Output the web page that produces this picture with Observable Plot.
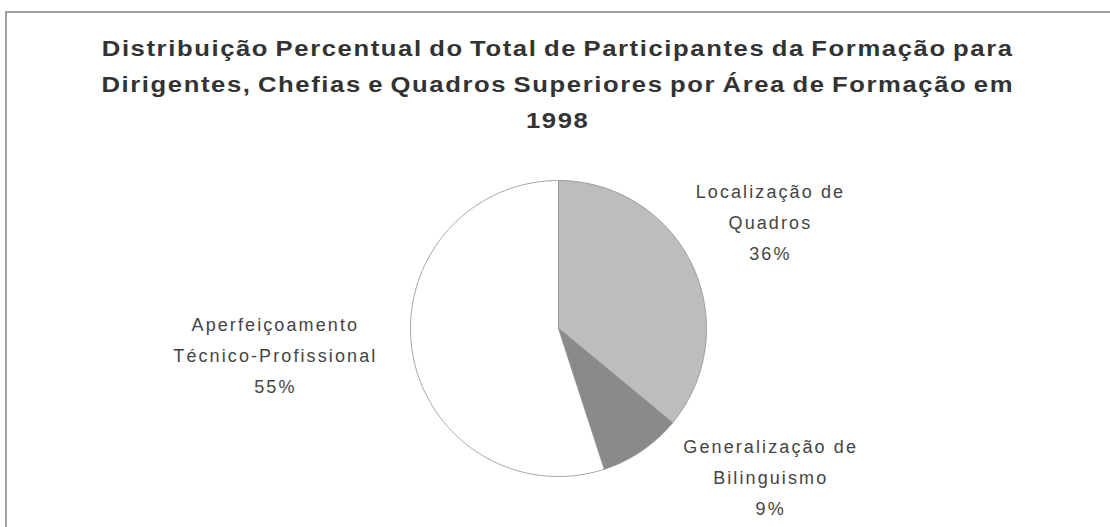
<!DOCTYPE html>
<html><head><meta charset="utf-8">
<script src="https://cdn.jsdelivr.net/npm/d3@7"></script>
<script src="https://cdn.jsdelivr.net/npm/@observablehq/plot@0.6"></script>
<style>
html,body{margin:0;padding:0;background:#fff;}
body{width:1110px;height:527px;overflow:hidden;position:relative;font-family:"Liberation Sans",Arial,sans-serif;}
#frame{position:absolute;left:5px;top:11px;width:1110px;height:530px;border-left:2px solid #a0a0a0;border-top:2px solid #a0a0a0;box-sizing:border-box;}
#title{position:absolute;left:0;top:31px;width:1116px;text-align:center;font-weight:bold;font-size:22.5px;line-height:36px;color:#333;letter-spacing:1.4px;word-spacing:-2px;transform:scaleX(1.14);transform-origin:560px 0;}
#chart{position:absolute;left:0;top:140px;}
</style>
</head><body>
<div id="frame"></div>
<div id="title">Distribuição Percentual do Total de Participantes da Formação para<br>Dirigentes, Chefias e Quadros Superiores por Área de Formação em<br>1998</div>
<div id="chart"></div>
<script>
// ---- data ----
const categories = ["Localização de Quadros", "Generalização de Bilinguismo", "Aperfeiçoamento Técnico-Profissional"];
const labelLines = [["Localização de", "Quadros"], ["Generalização de", "Bilinguismo"], ["Aperfeiçoamento", "Técnico-Profissional"]];
const shares = [36, 9, 55];

// ---- style / layout ----
const sliceColors = ["#bdbdbd", "#8a8a8a", "#ffffff"];
const labelOffsets = [[78, -46], [129, 23], [-137, 0]]; // px offset from slice mid-edge

const total = d3.sum(shares);
let cum = 0;
const slices = shares.map((v, i) => {
  const a0 = cum / total * 2 * Math.PI;
  cum += v;
  const a1 = cum / total * 2 * Math.PI;
  const pts = [{x: 0, y: 0}];
  const n = Math.max(2, Math.ceil((a1 - a0) / (Math.PI / 360)));
  for (let k = 0; k <= n; k++) {
    const a = a0 + (a1 - a0) * k / n;
    pts.push({x: Math.sin(a), y: Math.cos(a)});
  }
  pts.push({x: 0, y: 0});
  const am = (a0 + a1) / 2;
  return {name: categories[i], pts, color: sliceColors[i],
          mx: Math.sin(am), my: Math.cos(am),
          label: labelLines[i].join("\n") + "\n" + Math.round(v / total * 100) + "%",
          dx: labelOffsets[i][0], dy: labelOffsets[i][1]};
});

const cx = 558, cy = 188, r = 148;
const marks = [];
slices.forEach(s => {
  marks.push(Plot.line(s.pts, {x: "x", y: "y", fill: s.color, stroke: "#8a8a8a", strokeWidth: 0.8, curve: "linear"}));
});
slices.forEach(s => {
  marks.push(Plot.text([s], {x: "mx", y: "my", text: "label", dx: s.dx, dy: s.dy,
    fontSize: 18, lineHeight: 1.72, lineAnchor: "middle", textAnchor: "middle", fill: "#444"}));
});

const chart = Plot.plot({
  width: 1110, height: 387,
  margin: 0,
  x: {domain: [-1, 1], range: [cx - r, cx + r], axis: null},
  y: {domain: [-1, 1], range: [cy + r, cy - r], axis: null},
  style: {fontFamily: "'Liberation Sans', Arial, sans-serif", letterSpacing: "2.1px", background: "transparent", overflow: "visible"},
  marks
});
document.getElementById("chart").appendChild(chart);
</script>
</body></html>
